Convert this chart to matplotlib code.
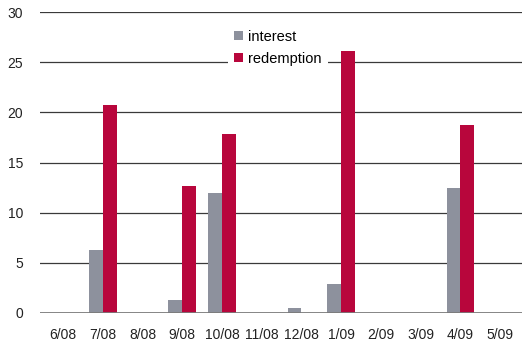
import matplotlib
matplotlib.use("Agg")
import matplotlib.pyplot as plt
import numpy as np
from matplotlib import font_manager

months = ["6/08", "7/08", "8/08", "9/08", "10/08", "11/08", "12/08",
          "1/09", "2/09", "3/09", "4/09", "5/09"]
interest = [0, 6.3, 0, 1.3, 12.0, 0, 0.5, 2.9, 0, 0, 12.5, 0]
redemption = [0, 20.7, 0, 12.7, 17.8, 0, 0, 26.1, 0, 0, 18.7, 0]
yticks = [0, 5, 10, 15, 20, 25, 30]

names = {f.name for f in font_manager.fontManager.ttflist}
family = "Liberation Sans Narrow" if "Liberation Sans Narrow" in names else "Liberation Sans"
plt.rcParams["font.family"] = [family, "DejaVu Sans"]

grey = "#8d919d"
red = "#b8063c"

fig = plt.figure(figsize=(5.22, 3.45), dpi=100)
ax = fig.add_axes([40 / 522, 1 - 313 / 345, 1 - 40 / 522, (313 - 12) / 345])

x = np.arange(len(months))
w = 0.35
ax.bar(x - w / 2, interest, w, color=grey, label="interest", zorder=3)
ax.bar(x + w / 2, redemption, w, color=red, label="redemption", zorder=3)

ax.set_xlim(-0.58, len(months) - 0.45)
ax.set_ylim(0, 30)
ax.set_yticks(yticks)
ax.set_xticks(x)
ax.set_xticklabels(months)

for v in yticks[1:]:
    ax.axhline(v, color="#3a3a3a", lw=0.9, zorder=1)
ax.axhline(0, color="#7a7a7a", lw=2.0, zorder=4)

for s in ax.spines.values():
    s.set_visible(False)
ax.tick_params(axis="both", length=0, labelsize=10, colors="#222222")
ax.tick_params(axis="y", pad=12)
ax.tick_params(axis="x", pad=11)

leg = ax.legend(loc="upper left", bbox_to_anchor=(0.375, 0.985), frameon=True,
                fontsize=10.5, handlelength=0.6, handleheight=0.6,
                handletextpad=0.4, labelspacing=0.55, borderpad=0.4)
leg.get_frame().set_facecolor("white")
leg.get_frame().set_edgecolor("none")
leg.get_frame().set_alpha(1)
leg.set_zorder(5)

fig.savefig("out.png", dpi=100)
